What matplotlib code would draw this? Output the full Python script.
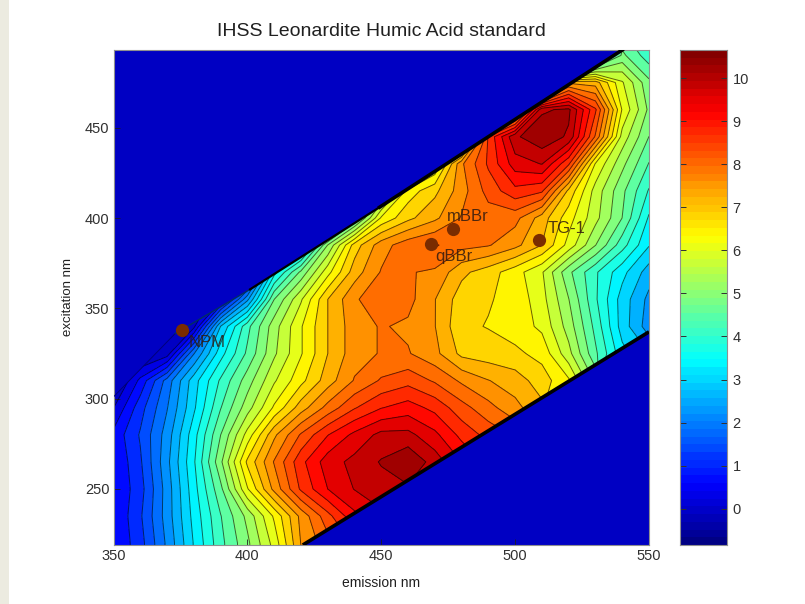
import numpy as np
import matplotlib
matplotlib.use('Agg')
import matplotlib.pyplot as plt
from matplotlib.colors import LinearSegmentedColormap, Normalize
from matplotlib.patches import Polygon, Rectangle

plt.rcParams['font.family'] = ['Liberation Sans', 'DejaVu Sans']

# Grid
emission = np.arange(350, 551, 10)
excitation = np.arange(205, 506, 15)
intensity = np.array([
    # 350  360  370  380  390  400  410  420  430  440  450  460  470  480  490  500  510  520  530  540  550
    [0.7, 1.3, 2.3, 3.4, 4.4, 5.2, 6.0, 7.4, 8.0, 0.0, 0.0, 0.0, 0.0, 0.0, 0.0, 0.0, 0.0, 0.0, 0.0, 0.0, 0.0],  # 205
    [0.7, 1.3, 2.3, 3.4, 4.4, 5.2, 6.2, 7.6, 8.2, 8.8, 9.2, 0.0, 0.0, 0.0, 0.0, 0.0, 0.0, 0.0, 0.0, 0.0, 0.0],  # 220
    [0.7, 1.4, 2.4, 3.5, 4.5, 5.4, 6.5, 7.7, 8.6, 9.4, 9.8, 9.8, 0.0, 0.0, 0.0, 0.0, 0.0, 0.0, 0.0, 0.0, 0.0],  # 235
    [0.7, 1.3, 2.4, 3.6, 4.8, 6.4, 7.7, 8.8, 9.5, 9.9, 10.1, 10.2, 9.8, 0.0, 0.0, 0.0, 0.0, 0.0, 0.0, 0.0, 0.0],  # 250
    [0.7, 1.4, 2.5, 3.7, 5.2, 6.9, 8.0, 9.0, 9.7, 10.0, 10.3, 10.6, 10.1, 9.5, 9.0, 0.0, 0.0, 0.0, 0.0, 0.0, 0.0],  # 265
    [0.8, 1.5, 2.4, 3.6, 4.9, 6.2, 7.5, 8.4, 9.1, 9.6, 10.0, 10.0, 9.6, 9.0, 8.6, 8.3, 0.0, 0.0, 0.0, 0.0, 0.0],  # 280
    [0.3, 1.3, 2.2, 3.3, 4.5, 5.5, 6.5, 7.4, 8.1, 8.7, 9.1, 9.3, 9.0, 8.5, 8.1, 7.7, 7.3, 0.0, 0.0, 0.0, 0.0],  # 295
    [-0.3, 0.8, 2.0, 3.2, 4.2, 5.1, 6.0, 6.7, 7.4, 8.0, 8.4, 8.6, 8.3, 7.9, 7.6, 7.4, 7.0, 6.5, 5.2, 0.0, 0.0],  # 310
    [-0.1, -0.2, 0.1, 2.2, 3.6, 4.6, 5.6, 6.4, 7.2, 7.8, 8.0, 8.0, 7.7, 7.1, 7.0, 6.9, 6.7, 5.8, 4.6, 3.5, 3.0],  # 325
    [0.0, 0.0, 0.0, 0.2, 3.0, 4.4, 5.5, 6.4, 7.2, 7.8, 8.0, 7.9, 7.6, 6.9, 6.8, 6.65, 6.35, 5.5, 4.4, 3.2, 2.4],  # 340
    [0.0, 0.0, 0.0, 0.0, 0.5, 2.5, 4.9, 6.0, 7.2, 7.9, 8.3, 8.1, 7.6, 7.0, 6.85, 6.7, 6.2, 5.3, 4.2, 3.2, 2.5],  # 355
    [0.0, 0.0, 0.0, 0.0, 0.0, 0.5, 3.6, 5.0, 6.3, 7.4, 8.0, 8.0, 7.9, 7.3, 7.0, 6.6, 6.1, 5.0, 4.2, 3.5, 2.8],  # 370
    [0.0, 0.0, 0.0, 0.0, 0.0, 0.0, 0.5, 3.0, 5.3, 7.0, 7.8, 8.2, 8.4, 8.1, 8.0, 7.7, 7.2, 6.3, 5.3, 4.3, 3.4],  # 385
    [0.0, 0.0, 0.0, 0.0, 0.0, 0.0, 0.0, 0.0, 2.0, 4.5, 6.5, 7.1, 7.5, 8.0, 8.15, 8.1, 7.4, 6.6, 5.8, 4.9, 3.7],  # 400
    [0.0, 0.0, 0.0, 0.0, 0.0, 0.0, 0.0, 0.0, 0.0, 0.0, 5.0, 6.6, 7.1, 7.8, 8.5, 9.0, 8.8, 7.1, 5.9, 5.0, 4.1],  # 415
    [0.0, 0.0, 0.0, 0.0, 0.0, 0.0, 0.0, 0.0, 0.0, 0.0, 0.0, 4.0, 6.0, 7.9, 8.8, 9.7, 9.9, 8.8, 6.4, 5.4, 4.5],  # 430
    [0.0, 0.0, 0.0, 0.0, 0.0, 0.0, 0.0, 0.0, 0.0, 0.0, 0.0, 0.0, 0.0, 5.0, 8.8, 10.2, 10.55, 10.2, 8.3, 5.9, 4.9],  # 445
    [0.0, 0.0, 0.0, 0.0, 0.0, 0.0, 0.0, 0.0, 0.0, 0.0, 0.0, 0.0, 0.0, 0.0, 5.0, 7.0, 10.2, 10.35, 8.8, 6.4, 5.2],  # 460
    [0.0, 0.0, 0.0, 0.0, 0.0, 0.0, 0.0, 0.0, 0.0, 0.0, 0.0, 0.0, 0.0, 0.0, 0.0, 0.0, 4.0, 7.5, 7.4, 6.1, 5.0],  # 475
    [0.0, 0.0, 0.0, 0.0, 0.0, 0.0, 0.0, 0.0, 0.0, 0.0, 0.0, 0.0, 0.0, 0.0, 0.0, 0.0, 0.0, 0.0, 3.0, 5.0, 4.3],  # 490
    [0.0, 0.0, 0.0, 0.0, 0.0, 0.0, 0.0, 0.0, 0.0, 0.0, 0.0, 0.0, 0.0, 0.0, 0.0, 0.0, 0.0, 0.0, 0.0, 4.5, 4.2],  # 505
])

# Edges of the measured band
upper_em = [350, 373, 401, 449.4, 540, 550]
upper_ex = [301, 336, 360.5, 406, 493, 493]
lower_em = [550, 420.7]
lower_ex = [337, 219]

# Probe positions and labels
probe_em = [375.6, 476.7, 468.5, 508.8]
probe_ex = [337.8, 393.9, 385.5, 387.8]
label_names = ['NPM', 'mBBr', 'qBBr', 'TG-1']
label_em = [378, 474.4, 470.3, 512]
label_ex = [331, 401, 378.5, 394]

vmin, vmax = -0.84, 10.65
levels = np.linspace(vmin, vmax, 31)
# MATLAB's jet, matplotlib's differs a little around yellow
cmap = LinearSegmentedColormap('matlab_jet', {
    'red': [(0, 0, 0), (0.375, 0, 0), (0.625, 1, 1), (0.875, 1, 1), (1, 0.5, 0.5)],
    'green': [(0, 0, 0), (0.125, 0, 0), (0.375, 1, 1), (0.625, 1, 1), (0.875, 0, 0), (1, 0, 0)],
    'blue': [(0, 0.5, 0.5), (0.125, 1, 1), (0.375, 1, 1), (0.625, 0, 0), (1, 0, 0)],
})
norm = Normalize(vmin, vmax)
# Each band takes the colour of its lower level
band_colors = [cmap(norm(v)) for v in levels[:-1]]

W, H = 805, 604
fig = plt.figure(figsize=(W / 100, H / 100), dpi=100, facecolor='white')
fig.add_artist(Rectangle((0, 0), 9 / W, 1, transform=fig.transFigure,
                         facecolor='#ecebe0', edgecolor='none'))

ax = fig.add_axes([113.5 / W, 1 - 545 / H, (649 - 113.5) / W, 495 / H])
ax.set_facecolor(band_colors[2])

# Keep the contours inside the band
band_em = [350] + upper_em + lower_em + [350]
band_ex = [219] + upper_ex + lower_ex + [219]
band = Polygon(np.column_stack([band_em, band_ex]), closed=True,
               transform=ax.transData, facecolor='none', edgecolor='none')
ax.add_patch(band)

filled = ax.contourf(emission, excitation, intensity, levels=levels, colors=band_colors)
lines = ax.contour(emission, excitation, intensity, levels=levels, colors='black',
                   linewidths=0.7, alpha=0.6)
filled.set_clip_path(band)
lines.set_clip_path(band)

# Contours pile up on the band edges
ax.plot(lower_em, lower_ex, color='black', lw=2.6, solid_capstyle='butt', zorder=3)
ax.plot(upper_em[0:2], upper_ex[0:2], color='#00007a', lw=0.7, zorder=3)
ax.plot(upper_em[1:3], upper_ex[1:3], color='#003060', lw=1.0, zorder=3)
ax.plot(upper_em[2:4], upper_ex[2:4], color='black', lw=1.6, zorder=3)
ax.plot(upper_em[3:5], upper_ex[3:5], color='black', lw=2.6, zorder=3)

ax.plot(probe_em, probe_ex, 'o', color='#7a2c00', markersize=9.5, markeredgewidth=0, zorder=4)
for name, x, y in zip(label_names, label_em, label_ex):
    ax.text(x, y, name, fontsize=12, color='#301a10', alpha=0.85, va='center', ha='left', zorder=5)

ax.set_xlim(350, 550)
ax.set_ylim(219, 493)
ax.set_xticks(range(350, 551, 50))
ax.set_yticks(range(250, 451, 50))
ax.tick_params(direction='in', length=4, width=0.6, color='#202020', labelsize=10.5,
               labelcolor='#303030', pad=3)
for spine in ax.spines.values():
    spine.set_color('#909090')
    spine.set_linewidth(0.8)
ax.set_xlabel('emission nm', fontsize=10, color='#202020', labelpad=9)
ax.set_ylabel('excitation nm', fontsize=9.5, color='#202020', labelpad=8)
ax.set_title('IHSS Leonardite Humic Acid standard', fontsize=14, color='#202020', pad=10)

# Colour bar, 64 steps
bar_edges = np.linspace(vmin, vmax, 65)
bar_values = (bar_edges[:-1] + bar_edges[1:]) / 2
cax = fig.add_axes([680 / W, 1 - 545 / H, 47 / W, 495 / H])
cax.pcolormesh([0, 1], bar_edges, bar_values.reshape(-1, 1), cmap=cmap, norm=norm)
cax.set_xticks([])
cax.set_ylim(vmin, vmax)
cax.yaxis.tick_right()
cax.set_yticks(range(0, 11))
cax.tick_params(axis='y', direction='in', length=4, width=0.7, left=True, right=True,
                color='#303030', labelsize=10.5, labelcolor='#303030', pad=4)
for spine in cax.spines.values():
    spine.set_color('#909090')
    spine.set_linewidth(0.8)

fig.savefig('out.png', dpi=100)
